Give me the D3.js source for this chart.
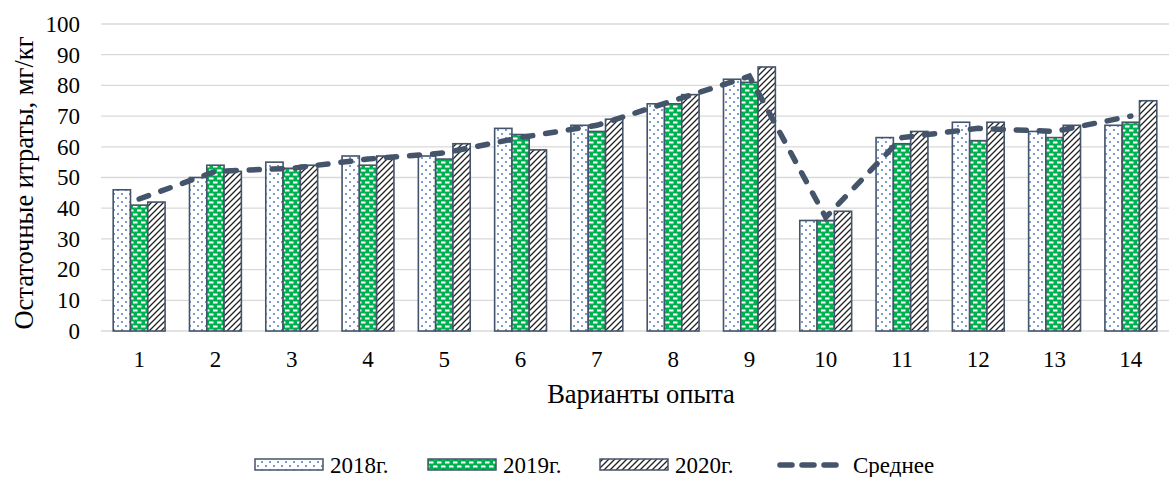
<!DOCTYPE html>
<html>
<head>
<meta charset="utf-8">
<script src="https://cdn.jsdelivr.net/npm/d3@7"></script>
<style>
  body { margin: 0; background: #fff; }
</style>
</head>
<body>
<div id="chart"></div>
<script>
var categories = ["1", "2", "3", "4", "5", "6", "7", "8", "9", "10", "11", "12", "13", "14"];
var years = ["2018г.", "2019г.", "2020г."];
var values2018 = [46, 50, 55, 57, 57, 66, 67, 74, 82, 36, 63, 68, 65, 67];
var values2019 = [41, 54, 53, 54, 56, 64, 65, 74, 81, 36, 61, 62, 63, 68];
var values2020 = [42, 52, 54, 57, 61, 59, 69, 77, 86, 39, 65, 68, 67, 75];
var average = [43, 52, 53, 56, 58, 63, 67, 75, 83, 37, 63, 66, 65, 70];
var yTicks = [0, 10, 20, 30, 40, 50, 60, 70, 80, 90, 100];

var width = 1172,
	height = 477;
var font = "'Liberation Serif', 'Times New Roman', serif";

var svg = d3.select("#chart")
	.append("svg")
	.attr("width", width)
	.attr("height", height);

var defs = svg.append("defs");

// dotted fill for 2018
var p1 = defs.append("pattern")
	.attr("id", "p2018")
	.attr("patternUnits", "userSpaceOnUse")
	.attr("width", 8).attr("height", 8);
p1.append("rect").attr("width", 8).attr("height", 8).attr("fill", "#fff");
p1.append("circle").attr("cx", 2).attr("cy", 2).attr("r", 0.95).attr("fill", "#4472C4");
p1.append("circle").attr("cx", 6).attr("cy", 6).attr("r", 0.95).attr("fill", "#4472C4");

// green with white dashes for 2019
var p2 = defs.append("pattern")
	.attr("id", "p2019")
	.attr("patternUnits", "userSpaceOnUse")
	.attr("width", 8).attr("height", 8);
p2.append("rect").attr("width", 8).attr("height", 8).attr("fill", "#00B050");
p2.append("rect").attr("x", 1).attr("y", 1.5).attr("width", 4.5).attr("height", 2).attr("fill", "#fff");
p2.append("rect").attr("x", 5).attr("y", 5.5).attr("width", 4.5).attr("height", 2).attr("fill", "#fff");
p2.append("rect").attr("x", -3).attr("y", 5.5).attr("width", 4.5).attr("height", 2).attr("fill", "#fff");

// diagonal hatch for 2020
var p3 = defs.append("pattern")
	.attr("id", "p2020")
	.attr("patternUnits", "userSpaceOnUse")
	.attr("width", 6).attr("height", 6);
p3.append("rect").attr("width", 6).attr("height", 6).attr("fill", "#fff");
p3.append("path")
	.attr("d", "M0,6 L6,0 M-1.5,1.5 L1.5,-1.5 M4.5,7.5 L7.5,4.5")
	.attr("stroke", "#222")
	.attr("stroke-width", 1.3);

var fills = ["url(#p2018)", "url(#p2019)", "url(#p2020)"];
var series = [values2018, values2019, values2020];

var x = d3.scaleBand()
	.domain(categories)
	.range([101, 1169])
	.paddingInner(0.32)
	.paddingOuter(0.16);

var xSub = d3.scaleBand()
	.domain(d3.range(3))
	.range([0, x.bandwidth()]);

var y = d3.scaleLinear()
	.domain([0, 100])
	.range([331, 24]);

// gridlines
svg.append("g")
	.selectAll("line")
	.data(yTicks)
	.enter().append("line")
	.attr("x1", 101)
	.attr("x2", 1169)
	.attr("y1", function(d) { return y(d) })
	.attr("y2", function(d) { return y(d) })
	.attr("stroke", "#d9d9d9")
	.attr("stroke-width", 1.3);

// y axis labels
var yAxis = svg.append("g")
	.attr("transform", "translate(80,0)")
	.call(d3.axisLeft(y).tickValues(yTicks).tickSize(0).tickPadding(0));
yAxis.select(".domain").remove();

// x axis labels
var xAxis = svg.append("g")
	.attr("transform", "translate(0,331)")
	.call(d3.axisBottom(x).tickSize(0).tickPadding(20));
xAxis.select(".domain").remove();

[yAxis, xAxis].forEach(function(ax) {
	ax.attr("font-family", font).attr("font-size", 23);
	ax.selectAll("text")
		.attr("font-size", 23)
		.attr("fill", "#000");
});

// bars
series.forEach(function(vals, i) {
	svg.append("g")
		.selectAll("rect")
		.data(vals)
		.enter().append("rect")
		.attr("x", function(d, j) { return x(categories[j]) + xSub(i) })
		.attr("y", function(d) { return y(d) })
		.attr("width", xSub.bandwidth())
		.attr("height", function(d) { return y(0) - y(d) })
		.attr("fill", fills[i])
		.attr("stroke", "#44546A")
		.attr("stroke-width", 1.6);
});

// average line
var line = d3.line()
	.x(function(d, j) { return x(categories[j]) + x.bandwidth() / 2 })
	.y(function(d) { return y(d) });

svg.append("path")
	.datum(average)
	.attr("d", line)
	.attr("fill", "none")
	.attr("stroke", "#44546A")
	.attr("stroke-width", 5.5)
	.attr("stroke-linecap", "round")
	.attr("stroke-dasharray", "10,13");

// axis titles
svg.append("text")
	.attr("transform", "translate(33,183) rotate(-90)")
	.attr("text-anchor", "middle")
	.attr("font-size", 26.5)
	.text("Остаточные итраты, мг/кг");

svg.append("text")
	.attr("x", 641)
	.attr("y", 403)
	.attr("text-anchor", "middle")
	.attr("font-size", 26.5)
	.text("Варианты опыта");

// legend
var legend = svg.append("g");
var legendX = [255, 428, 600];
years.forEach(function(name, i) {
	legend.append("rect")
		.attr("x", legendX[i])
		.attr("y", 459)
		.attr("width", 68)
		.attr("height", 11)
		.attr("fill", fills[i])
		.attr("stroke", "#44546A")
		.attr("stroke-width", 1.5);
	legend.append("text")
		.attr("x", legendX[i] + 75)
		.attr("y", 473)
		.attr("font-size", 23)
		.text(name);
});
legend.append("line")
	.attr("x1", 780)
	.attr("x2", 836)
	.attr("y1", 465)
	.attr("y2", 465)
	.attr("stroke", "#44546A")
	.attr("stroke-width", 5.5)
	.attr("stroke-linecap", "round")
	.attr("stroke-dasharray", "12,10");
legend.append("text")
	.attr("x", 853)
	.attr("y", 473)
	.attr("font-size", 23)
	.text("Среднее");

svg.selectAll("text")
	.attr("font-family", font);
</script>
</body>
</html>
